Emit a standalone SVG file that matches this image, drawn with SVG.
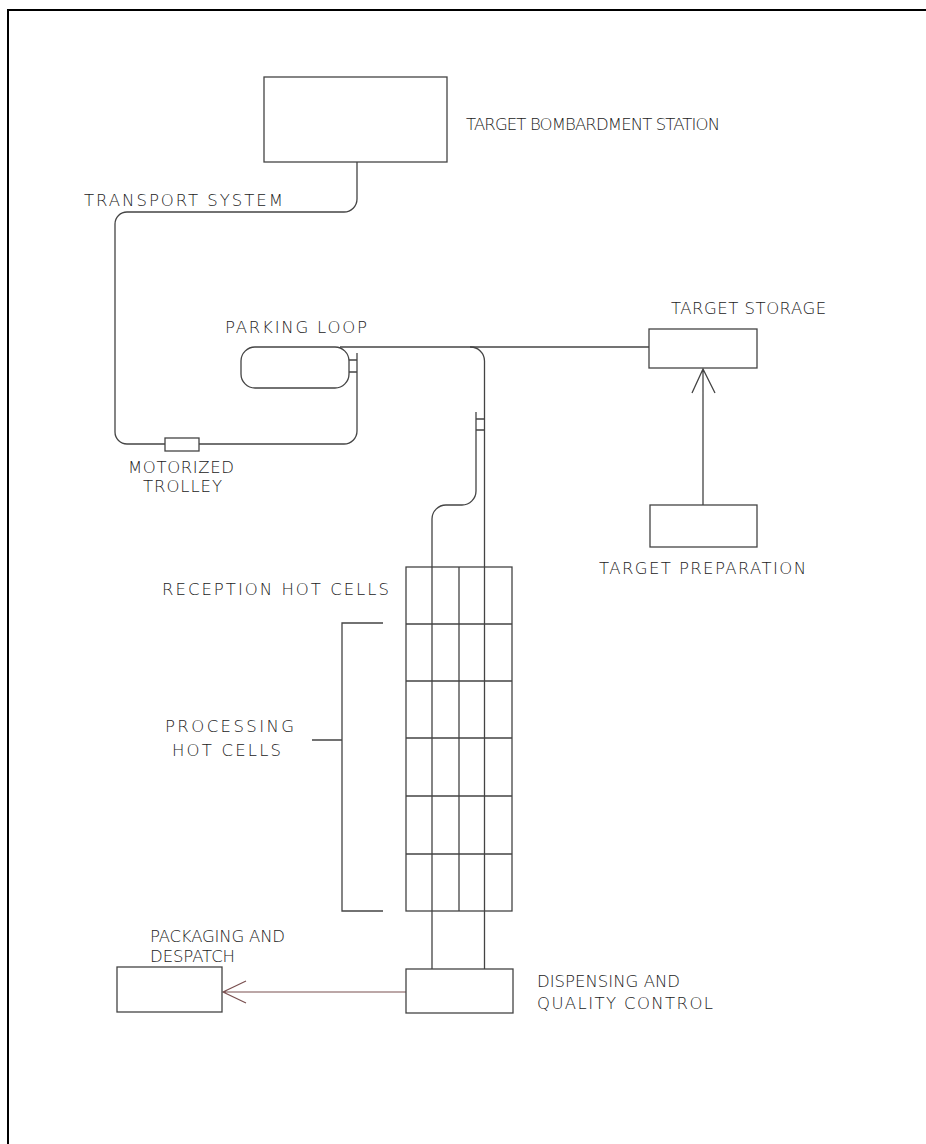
<svg xmlns="http://www.w3.org/2000/svg" width="926" height="1144" viewBox="0 0 926 1144">
<style>
.ln{fill:none;stroke:#444;stroke-width:1.3}
.rd{fill:none;stroke:#7a5050;stroke-width:1.2}
.bx{fill:#fff;stroke:#444;stroke-width:1.3}
.t{font-family:"DejaVu Sans","Liberation Sans",sans-serif;font-weight:200;font-size:16.5px;fill:#222}
</style>
<rect x="0" y="0" width="926" height="1144" fill="#fff"/>
<path d="M 8 1144 V 10 H 926" fill="none" stroke="#000" stroke-width="2"/>

<g id="connectors">
<path class="ln" d="M 357 162 V 199 A 13 13 0 0 1 344 212 H 127 A 12 12 0 0 0 115 224 V 432 A 12 12 0 0 0 127 444 H 344 A 13 13 0 0 0 357 431 V 353"/>
<path class="ln" d="M 340 347 H 649"/>
<path class="ln" d="M 470 347 A 14 14 0 0 1 484.5 361 V 969"/>
<path class="ln" d="M 476 412 V 491 A 14 14 0 0 1 462 505 H 446 A 14 14 0 0 0 432 519 V 969"/>
<path class="ln" d="M 349 360 H 357 M 349 372 H 357"/>
<path class="ln" d="M 476 419 H 484.5 M 476 430 H 484.5"/>
<path class="ln" d="M 703 505 V 369 M 692 393 L 703 369 L 715 393"/>
<path class="rd" d="M 406 992 H 223 M 246 981 L 223 992 L 246 1003"/>
</g>

<g id="bombardment">
<rect class="bx" x="264" y="77" width="183" height="85"/>
<text class="t" x="466" y="130" textLength="254">TARGET BOMBARDMENT STATION</text>
</g>
<g id="transport-label">
<text class="t" x="84" y="206" textLength="199">TRANSPORT SYSTEM</text>
</g>
<g id="parking-loop">
<rect class="bx" x="241" y="347" width="108" height="41" rx="14" ry="14"/>
<text class="t" x="225" y="333" textLength="142">PARKING LOOP</text>
</g>
<g id="trolley">
<rect class="bx" x="165" y="438" width="34" height="13"/>
<text class="t" x="128" y="473" textLength="106">MOTORIZED</text>
<text class="t" x="143" y="492" textLength="79">TROLLEY</text>
</g>
<g id="target-storage">
<rect class="bx" x="649" y="329" width="108" height="39"/>
<text class="t" x="671" y="314" letter-spacing="0.5">TARGET STORAGE</text>
</g>
<g id="target-preparation">
<rect class="bx" x="650" y="505" width="107" height="42"/>
<text class="t" x="599" y="574" textLength="207">TARGET PREPARATION</text>
</g>
<g id="hot-cells">
<rect class="ln" x="406" y="567" width="106" height="344"/>
<path class="ln" d="M 459 567 V 911 M 406 624 H 512 M 406 681 H 512 M 406 738 H 512 M 406 796 H 512 M 406 854 H 512"/>
<text class="t" x="162" y="595" textLength="227">RECEPTION HOT CELLS</text>
<path class="ln" d="M 383 623 H 342 V 911 H 383 M 342 740 H 312"/>
<text class="t" x="165" y="732" textLength="129">PROCESSING</text>
<text class="t" x="172" y="756" textLength="109">HOT CELLS</text>
</g>
<g id="dispensing">
<rect class="bx" x="406" y="969" width="107" height="44"/>
<text class="t" x="537" y="987" textLength="143">DISPENSING AND</text>
<text class="t" x="537" y="1009" textLength="176">QUALITY CONTROL</text>
</g>
<g id="packaging">
<rect class="bx" x="117" y="967" width="105" height="45"/>
<text class="t" x="150" y="942" textLength="135">PACKAGING AND</text>
<text class="t" x="150" y="962" textLength="85">DESPATCH</text>
</g>
</svg>
